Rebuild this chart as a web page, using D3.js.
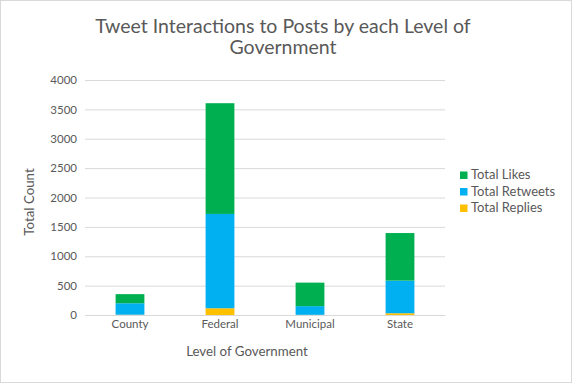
<!DOCTYPE html>
<html><head><meta charset="utf-8">
<script src="https://cdn.jsdelivr.net/npm/d3@7"></script>
<style>body{margin:0;background:#fff;} svg{display:block;font-family:Lato, "Open Sans", sans-serif;}</style>
</head><body>
<svg id="c" width="573" height="384"></svg>
<script>
const categories = ["County", "Federal", "Municipal", "State"];
const seriesNames = ["Total Replies", "Total Retweets", "Total Likes"];
const replies = [5, 115, 3, 30];
const retweets = [195, 1605, 148, 555];
const likes = [155, 1885, 400, 810];
const yTicks = [0, 500, 1000, 1500, 2000, 2500, 3000, 3500, 4000];
const colors = ["#FFC000", "#00B0F0", "#00B050"];

const svg = d3.select("#c");
svg.append("rect").attr("x",0.5).attr("y",0.5).attr("width",571).attr("height",382)
  .attr("fill","#fff").attr("stroke","#d9d9d9");

const m = {left:85, right:445, top:80, bottom:315};
const x = d3.scaleBand().domain(categories).range([m.left, m.right]).paddingInner(0.68).paddingOuter(0.34);
const y = d3.scaleLinear().domain([0, 4000]).range([m.bottom, m.top]);

// gridlines
svg.append("g").selectAll("line").data(yTicks).join("line")
  .attr("x1", m.left).attr("x2", m.right)
  .attr("y1", d=>y(d)+0.5).attr("y2", d=>y(d)+0.5)
  .attr("stroke", "#d9d9d9").attr("stroke-width",1);

const table = categories.map((c,i)=>({cat:c, "Total Replies":replies[i], "Total Retweets":retweets[i], "Total Likes":likes[i]}));
const stack = d3.stack().keys(seriesNames)(table);
svg.append("g").selectAll("g").data(stack).join("g")
  .attr("fill", (d,i)=>colors[i])
  .selectAll("rect").data(d=>d).join("rect")
  .attr("x", d=>x(d.data.cat)).attr("width", x.bandwidth())
  .attr("y", d=>y(d[1])).attr("height", d=>y(d[0])-y(d[1]));

// y axis
const yAxis = svg.append("g").attr("transform",`translate(${m.left},0)`)
  .call(d3.axisLeft(y).tickValues(yTicks).tickFormat(d3.format("d")).tickSize(0).tickPadding(8));
yAxis.select(".domain").remove();
yAxis.selectAll("text").attr("fill","#595959").style("font-size","11.5px").style("font-family","Lato");

// x axis
const xAxis = svg.append("g").attr("transform",`translate(0,${m.bottom})`)
  .call(d3.axisBottom(x).tickSize(0).tickPadding(5));
xAxis.select(".domain").attr("stroke","#d9d9d9");
xAxis.selectAll("text").attr("fill","#595959").style("font-size","11.5px").style("font-family","Lato");

// title
const title = svg.append("text").attr("text-anchor","middle").attr("fill","#595959")
  .style("font-size","19.5px");
title.append("tspan").attr("x",283).attr("y",33).text("Tweet Interactions to Posts by each Level of");
title.append("tspan").attr("x",283).attr("y",54).text("Government");

// axis titles
svg.append("text").attr("x",247).attr("y",356).attr("text-anchor","middle")
  .attr("fill","#595959").style("font-size","13.3px").text("Level of Government");
svg.append("text").attr("transform","translate(34,202) rotate(-90)").attr("text-anchor","middle")
  .attr("fill","#595959").style("font-size","13.3px").text("Total Count");

// legend
const legendOrder = [2,1,0];
const lg = svg.append("g").selectAll("g").data(legendOrder).join("g")
  .attr("transform",(d,i)=>`translate(460,${171.5+i*16.5})`);
lg.append("rect").attr("width",7.5).attr("height",7.5).attr("fill",d=>colors[d]);
lg.append("text").attr("x",11).attr("y",7.8).attr("fill","#595959").style("font-size","13px")
  .text(d=>seriesNames[d]);
</script>
</body></html>
